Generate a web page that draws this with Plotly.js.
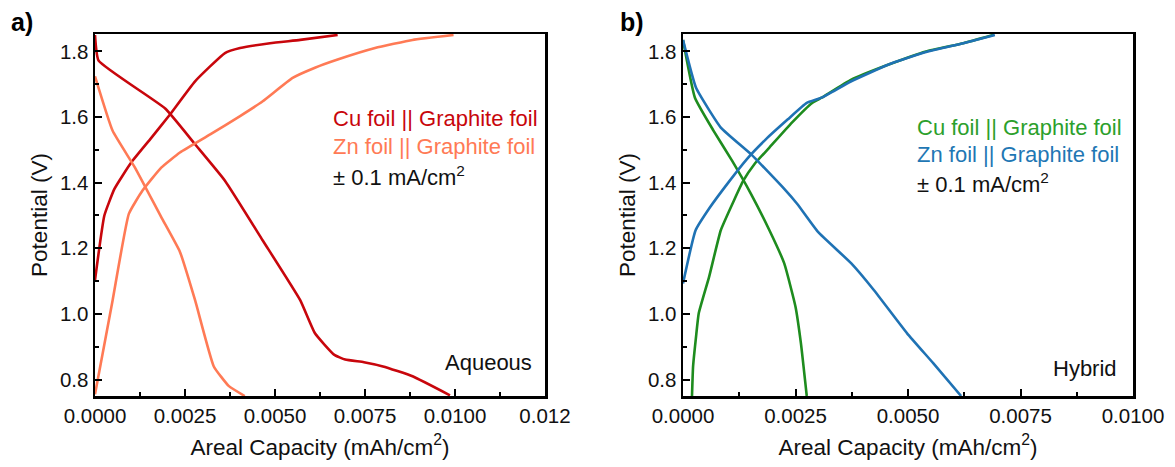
<!DOCTYPE html>
<html>
<head>
<meta charset="utf-8">
<script src="https://cdn.plot.ly/plotly-3.0.1.min.js"></script>
<style>html,body{margin:0;padding:0;background:#fff;}#chart{width:1175px;height:467px;}</style>
</head>
<body>
<div id="chart"></div>
<script>
// ---- Panel a (Aqueous) ----
var aCuDisX = [0, 0.0001, 0.00195, 0.00278, 0.00361, 0.00466, 0.0057, 0.00611, 0.00664, 0.00695, 0.00747, 0.0080, 0.00882, 0.00986];
var aCuDisY = [1.85, 1.772, 1.626, 1.517, 1.406, 1.224, 1.042, 0.941, 0.876, 0.861, 0.853, 0.840, 0.810, 0.752];
var aCuChX = [0, 0.00026, 0.00054, 0.00101, 0.00153, 0.00205, 0.00278, 0.00361, 0.00403, 0.00486, 0.0057, 0.00674];
var aCuChY = [1.103, 1.30, 1.381, 1.462, 1.532, 1.603, 1.709, 1.795, 1.81, 1.825, 1.835, 1.85];
var aZnDisX = [0, 0.00049, 0.00111, 0.00184, 0.00236, 0.00278, 0.0033, 0.00372, 0.00416];
var aZnDisY = [1.724, 1.558, 1.446, 1.295, 1.189, 1.042, 0.840, 0.780, 0.750];
var aZnChX = [0, 0.00049, 0.00094, 0.00132, 0.00184, 0.00236, 0.0032, 0.00403, 0.00466, 0.00549, 0.00611, 0.00674, 0.00778, 0.00882, 0.00996];
var aZnChY = [0.755, 1.042, 1.305, 1.376, 1.446, 1.492, 1.547, 1.603, 1.648, 1.719, 1.75, 1.775, 1.81, 1.835, 1.85];

// ---- Panel b (Hybrid) ----
var bCuDisX = [0, 0.000265, 0.00068, 0.00109, 0.00151, 0.00192, 0.00225, 0.0025, 0.00262, 0.00275];
var bCuDisY = [1.835, 1.659, 1.558, 1.467, 1.366, 1.255, 1.154, 1.022, 0.911, 0.750];
var bCuChX = [0.0002, 0.000224, 0.00029, 0.00035, 0.00058, 0.00084, 0.00113, 0.00134, 0.00159, 0.00192, 0.00242, 0.00287, 0.00308, 0.00374, 0.00457, 0.0054, 0.00623, 0.00689];
var bCuChY = [0.750, 0.84, 0.931, 1.002, 1.113, 1.255, 1.345, 1.406, 1.457, 1.507, 1.583, 1.643, 1.659, 1.714, 1.76, 1.80, 1.825, 1.85];
var bZnDisX = [0, 0.00029, 0.00084, 0.00151, 0.00225, 0.00254, 0.0030, 0.00374, 0.00424, 0.00498, 0.00556, 0.00618];
var bZnDisY = [1.835, 1.689, 1.568, 1.487, 1.381, 1.335, 1.25, 1.154, 1.073, 0.941, 0.85, 0.750];
var bZnChX = [0, 0.00028, 0.0006, 0.00101, 0.00142, 0.00184, 0.00233, 0.00275, 0.00308, 0.00374, 0.00457, 0.0054, 0.00623, 0.00693];
var bZnChY = [1.093, 1.255, 1.325, 1.401, 1.472, 1.532, 1.593, 1.643, 1.659, 1.709, 1.76, 1.798, 1.825, 1.85];

// ---- Labels ----
var legendCu = "Cu foil || Graphite foil";
var legendZn = "Zn foil || Graphite foil";
var currentLabel = "± 0.1 mA/cm<sup>2</sup>";
var xTitle = "Areal Capacity (mAh/cm<sup>2</sup>)";
var yTitle = "Potential (V)";
var aXTickVals = [0, 0.0025, 0.005, 0.0075, 0.01, 0.0125];
var aXTickText = ["0.0000", "0.0025", "0.0050", "0.0075", "0.0100", "0.012"];
var bXTickVals = [0, 0.0025, 0.005, 0.0075, 0.01];
var bXTickText = ["0.0000", "0.0025", "0.0050", "0.0075", "0.0100"];
var yTickVals = [0.8, 1.0, 1.2, 1.4, 1.6, 1.8];
var yTickText = ["0.8", "1.0", "1.2", "1.4", "1.6", "1.8"];

var cRed = "#C8060C", cCoral = "#FF7A55", cGreen = "#1E8C1E", cBlue = "#1F72B4";
var cGreenText = "#2CA02C", cBlueText = "#1F77B4";
var W = 1175, H = 467;
var FONT = "Liberation Sans, Arial, sans-serif";

function line(x, y, color, xa, ya) {
  return {x: x, y: y, xaxis: xa, yaxis: ya, mode: "lines", type: "scatter",
          line: {color: color, width: 2.6, shape: "spline", smoothing: 0.4}, showlegend: false, hoverinfo: "skip"};
}

var data = [
  line(aCuDisX, aCuDisY, cRed, "x", "y"),
  line(aCuChX, aCuChY, cRed, "x", "y"),
  line(aZnDisX, aZnDisY, cCoral, "x", "y"),
  line(aZnChX, aZnChY, cCoral, "x", "y"),
  line(bCuDisX, bCuDisY, cGreen, "x2", "y2"),
  line(bCuChX, bCuChY, cGreen, "x2", "y2"),
  line(bZnDisX, bZnDisY, cBlue, "x2", "y2"),
  line(bZnChX, bZnChY, cBlue, "x2", "y2")
];

function xAxis(range, tv, tt, minorD, domain, anchor) {
  return {domain: domain, anchor: anchor, range: range, tickmode: "array", tickvals: tv, ticktext: tt,
    ticks: "inside", ticklen: 7, tickwidth: 2, tickcolor: "#000",
    minor: {ticks: "inside", ticklen: 4, tickwidth: 2, tickcolor: "#000", dtick: minorD, tick0: 0, showgrid: false},
    showline: true, linewidth: 2.5, linecolor: "#000", mirror: true, showgrid: false, zeroline: false,
    tickfont: {family: FONT, size: 20.5, color: "#111"},
    title: {text: xTitle, font: {family: FONT, size: 22.5, color: "#111"}, standoff: 13}};
}
function yAxis(domain, anchor) {
  return {domain: domain, anchor: anchor, range: [0.75, 1.853], tickmode: "array", tickvals: yTickVals, ticktext: yTickText,
    ticks: "inside", ticklen: 7, tickwidth: 2, tickcolor: "#000",
    minor: {ticks: "inside", ticklen: 4, tickwidth: 2, tickcolor: "#000", dtick: 0.1, tick0: 0.7, showgrid: false},
    showline: true, linewidth: 2.5, linecolor: "#000", mirror: true, showgrid: false, zeroline: false,
    tickfont: {family: FONT, size: 20.5, color: "#111"},
    title: {text: yTitle, font: {family: FONT, size: 22.5, color: "#111"}, standoff: 6}};
}

var yDom = [1 - 396 / H, 1 - 34 / H];

function ann(text, px, py, color, size, bold) {
  return {text: bold ? "<b>" + text + "</b>" : text, xref: "paper", yref: "paper",
    x: px / W, y: 1 - py / H, xanchor: "left", yanchor: "middle", showarrow: false,
    font: {family: FONT, size: size, color: color}};
}

var layout = {
  width: W, height: H,
  margin: {l: 0, r: 0, t: 0, b: 0},
  paper_bgcolor: "#fff", plot_bgcolor: "#fff",
  xaxis: xAxis([0, 0.0125], aXTickVals, aXTickText, 0.00125, [95 / W, 545 / W], "y"),
  yaxis: yAxis(yDom, "x"),
  xaxis2: xAxis([0, 0.01], bXTickVals, bXTickText, 0.00125, [683 / W, 1133 / W], "y2"),
  yaxis2: yAxis(yDom, "x2"),
  annotations: [
    ann("a)", 9, 22, "#000", 25, true),
    ann("b)", 618, 22, "#000", 25, true),
    ann(legendCu, 331, 118, cRed, 22),
    ann(legendZn, 331, 147, cCoral, 22),
    ann(currentLabel, 331, 176, "#111", 22),
    ann("Aqueous", 443, 362, "#111", 22),
    ann(legendCu, 915, 127, cGreenText, 22),
    ann(legendZn, 915, 154, cBlueText, 22),
    ann(currentLabel, 915, 183, "#111", 22),
    ann("Hybrid", 1051, 368, "#111", 22)
  ]
};

Plotly.newPlot("chart", data, layout, {displayModeBar: false, staticPlot: true});
</script>
</body>
</html>
